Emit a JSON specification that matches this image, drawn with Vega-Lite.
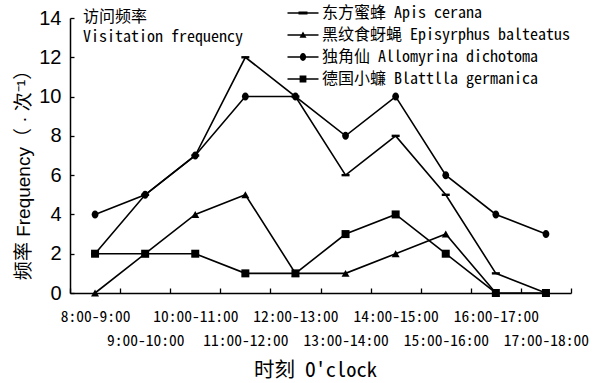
{
  "$schema": "https://vega.github.io/schema/vega-lite/v6.json",
  "width": 501,
  "height": 275,
  "autosize": {"type": "none"},
  "padding": {"left": 70, "top": 18, "right": 22, "bottom": 90},
  "background": "white",
  "config": {
    "view": {"stroke": null},
    "axis": {"domainColor": "black", "domainWidth": 1.5, "tickColor": "black", "tickWidth": 1.3, "grid": false, "labelColor": "black", "titleColor": "black", "titleFontWeight": "normal"}
  },
  "data": {
    "values": [
      {"time": "8:00-9:00", "h": 8, "species": "东方蜜蜂 Apis cerana", "value": 2},
      {"time": "9:00-10:00", "h": 9, "species": "东方蜜蜂 Apis cerana", "value": 5},
      {"time": "10:00-11:00", "h": 10, "species": "东方蜜蜂 Apis cerana", "value": 7},
      {"time": "11:00-12:00", "h": 11, "species": "东方蜜蜂 Apis cerana", "value": 12},
      {"time": "12:00-13:00", "h": 12, "species": "东方蜜蜂 Apis cerana", "value": 10},
      {"time": "13:00-14:00", "h": 13, "species": "东方蜜蜂 Apis cerana", "value": 6},
      {"time": "14:00-15:00", "h": 14, "species": "东方蜜蜂 Apis cerana", "value": 8},
      {"time": "15:00-16:00", "h": 15, "species": "东方蜜蜂 Apis cerana", "value": 5},
      {"time": "16:00-17:00", "h": 16, "species": "东方蜜蜂 Apis cerana", "value": 1},
      {"time": "17:00-18:00", "h": 17, "species": "东方蜜蜂 Apis cerana", "value": 0},
      {"time": "8:00-9:00", "h": 8, "species": "黑纹食蚜蝇 Episyrphus balteatus", "value": 0},
      {"time": "9:00-10:00", "h": 9, "species": "黑纹食蚜蝇 Episyrphus balteatus", "value": 2},
      {"time": "10:00-11:00", "h": 10, "species": "黑纹食蚜蝇 Episyrphus balteatus", "value": 4},
      {"time": "11:00-12:00", "h": 11, "species": "黑纹食蚜蝇 Episyrphus balteatus", "value": 5},
      {"time": "12:00-13:00", "h": 12, "species": "黑纹食蚜蝇 Episyrphus balteatus", "value": 1},
      {"time": "13:00-14:00", "h": 13, "species": "黑纹食蚜蝇 Episyrphus balteatus", "value": 1},
      {"time": "14:00-15:00", "h": 14, "species": "黑纹食蚜蝇 Episyrphus balteatus", "value": 2},
      {"time": "15:00-16:00", "h": 15, "species": "黑纹食蚜蝇 Episyrphus balteatus", "value": 3},
      {"time": "16:00-17:00", "h": 16, "species": "黑纹食蚜蝇 Episyrphus balteatus", "value": 0},
      {"time": "8:00-9:00", "h": 8, "species": "独角仙 Allomyrina dichotoma", "value": 4},
      {"time": "9:00-10:00", "h": 9, "species": "独角仙 Allomyrina dichotoma", "value": 5},
      {"time": "10:00-11:00", "h": 10, "species": "独角仙 Allomyrina dichotoma", "value": 7},
      {"time": "11:00-12:00", "h": 11, "species": "独角仙 Allomyrina dichotoma", "value": 10},
      {"time": "12:00-13:00", "h": 12, "species": "独角仙 Allomyrina dichotoma", "value": 10},
      {"time": "13:00-14:00", "h": 13, "species": "独角仙 Allomyrina dichotoma", "value": 8},
      {"time": "14:00-15:00", "h": 14, "species": "独角仙 Allomyrina dichotoma", "value": 10},
      {"time": "15:00-16:00", "h": 15, "species": "独角仙 Allomyrina dichotoma", "value": 6},
      {"time": "16:00-17:00", "h": 16, "species": "独角仙 Allomyrina dichotoma", "value": 4},
      {"time": "17:00-18:00", "h": 17, "species": "独角仙 Allomyrina dichotoma", "value": 3},
      {"time": "8:00-9:00", "h": 8, "species": "德国小蠊 Blattlla germanica", "value": 2},
      {"time": "9:00-10:00", "h": 9, "species": "德国小蠊 Blattlla germanica", "value": 2},
      {"time": "10:00-11:00", "h": 10, "species": "德国小蠊 Blattlla germanica", "value": 2},
      {"time": "11:00-12:00", "h": 11, "species": "德国小蠊 Blattlla germanica", "value": 1},
      {"time": "12:00-13:00", "h": 12, "species": "德国小蠊 Blattlla germanica", "value": 1},
      {"time": "13:00-14:00", "h": 13, "species": "德国小蠊 Blattlla germanica", "value": 3},
      {"time": "14:00-15:00", "h": 14, "species": "德国小蠊 Blattlla germanica", "value": 4},
      {"time": "15:00-16:00", "h": 15, "species": "德国小蠊 Blattlla germanica", "value": 2},
      {"time": "16:00-17:00", "h": 16, "species": "德国小蠊 Blattlla germanica", "value": 0},
      {"time": "17:00-18:00", "h": 17, "species": "德国小蠊 Blattlla germanica", "value": 0}
    ]
  },
  "layer": [
    {
      "mark": {"type": "line", "color": "black", "strokeWidth": 1.6},
      "encoding": {
        "x": {
          "field": "time", "type": "ordinal",
          "scale": {"domain": ["8:00-9:00", "9:00-10:00", "10:00-11:00", "11:00-12:00", "12:00-13:00", "13:00-14:00", "14:00-15:00", "15:00-16:00", "16:00-17:00", "17:00-18:00"], "paddingInner": 0, "paddingOuter": 0},
          "axis": {
            "title": "时刻 O'clock",
            "tickBand": "extent",
            "tickSize": -5,
            "labelAngle": 0,
            "labelOverlap": false,
            "labelBound": false,
            "labelPadding": 21,
            "labelFont": "Noto Sans Mono CJK SC, DejaVu Sans Mono, Noto Sans CJK SC",
            "labelFontSize": 15.5,
            "labelLineHeight": 24,
            "labelExpr": "indexof(['9:00-10:00','11:00-12:00','13:00-14:00','15:00-16:00','17:00-18:00'], datum.value) >= 0 ? ['', datum.label] : datum.label",
            "titleFont": "Noto Sans Mono CJK SC, DejaVu Sans Mono, Noto Sans CJK SC",
            "titleFontSize": 20.5,
            "titleX": 245,
            "titleAlign": "center",
            "titleY": 77,
            "titleBaseline": "middle"
          }
        },
        "y": {
          "field": "value", "type": "quantitative",
          "scale": {"domain": [0, 14], "nice": false},
          "axis": {
            "title": "频率 Frequency（ · 次⁻¹）",
            "tickCount": 7,
            "tickSize": -4,
            "labelPadding": 13,
            "labelFont": "Liberation Sans",
            "labelFontSize": 20,
            "titleFont": "Liberation Sans, Noto Sans CJK SC",
            "titleFontSize": 19,
            "titleX": -47,
            "titleY": 152,
            "titleAngle": -90,
            "titleAlign": "center",
            "titleBaseline": "middle"
          }
        },
        "detail": {"field": "species"},
        "order": {"field": "h", "type": "quantitative"}
      }
    },
    {
      "mark": {"type": "point", "filled": true, "color": "black", "opacity": 1},
      "encoding": {
        "x": {"field": "time", "type": "ordinal"},
        "y": {"field": "value", "type": "quantitative"},
        "shape": {
          "field": "species", "type": "nominal",
          "scale": {"domain": ["东方蜜蜂 Apis cerana", "黑纹食蚜蝇 Episyrphus balteatus", "独角仙 Allomyrina dichotoma", "德国小蠊 Blattlla germanica"], "range": ["M-1,-0.3H1V0.3H-1Z", "triangle-up", "M-0.85,0A0.85,1 0 1,0 0.85,0A0.85,1 0 1,0 -0.85,0Z", "square"]},
          "legend": null
        },
        "size": {"value": 64}
      }
    },
    {
      "mark": {"type": "point", "filled": true, "color": "black", "opacity": 0},
      "encoding": {
        "x": {"field": "time", "type": "ordinal"},
        "y": {"field": "value", "type": "quantitative"},
        "shape": {
          "field": "species", "type": "nominal",
          "scale": {"domain": ["东方蜜蜂 Apis cerana", "黑纹食蚜蝇 Episyrphus balteatus", "独角仙 Allomyrina dichotoma", "德国小蠊 Blattlla germanica"], "range": [
            "M-3.1,-0.16H3.1V0.16H-3.1ZM-0.9,-0.32H0.9V0.32H-0.9Z",
            "M-3.1,-0.16H3.1V0.16H-3.1ZM0,-0.7L0.7,0.55H-0.7Z",
            "M-3.1,-0.16H3.1V0.16H-3.1ZM-0.62,0A0.62,0.78 0 1,1 0.62,0A0.62,0.78 0 1,1 -0.62,0Z",
            "M-3.1,-0.16H3.1V0.16H-3.1ZM-0.68,-0.68H0.68V0.68H-0.68Z"]},
          "legend": {
            "title": null,
            "orient": "none",
            "legendX": 225,
            "legendY": -13,
            "padding": 0,
            "symbolSize": 100,
            "symbolOpacity": 1,
            "symbolStrokeWidth": 0,
            "symbolFillColor": "black",
            "labelFont": "Noto Sans Mono CJK SC, DejaVu Sans Mono, Noto Sans CJK SC",
            "labelFontSize": 16,
            "labelColor": "black",
            "labelOffset": 11,
            "labelLimit": 400,
            "rowPadding": 6,
            "encode": {"symbols": {"fill": {"value": "black"}, "opacity": {"value": 1}, "strokeWidth": {"value": 0}}}
          }
        },
        "size": {"value": 100}
      }
    },
    {
      "data": {"values": [
        {"time": "8:00-9:00", "value": 14, "note": "访问频率"},
        {"time": "8:00-9:00", "value": 12.98, "note": "Visitation frequency"}
      ]},
      "mark": {"type": "text", "align": "left", "baseline": "top", "dx": -12, "dy": -9, "fontSize": 16, "font": "Noto Sans Mono CJK SC, DejaVu Sans Mono, Noto Sans CJK SC", "color": "black"},
      "encoding": {
        "x": {"field": "time", "type": "ordinal"},
        "y": {"field": "value", "type": "quantitative"},
        "text": {"field": "note"}
      }
    }
  ],
  "resolve": {"scale": {"shape": "independent"}, "legend": {"shape": "independent"}}
}
